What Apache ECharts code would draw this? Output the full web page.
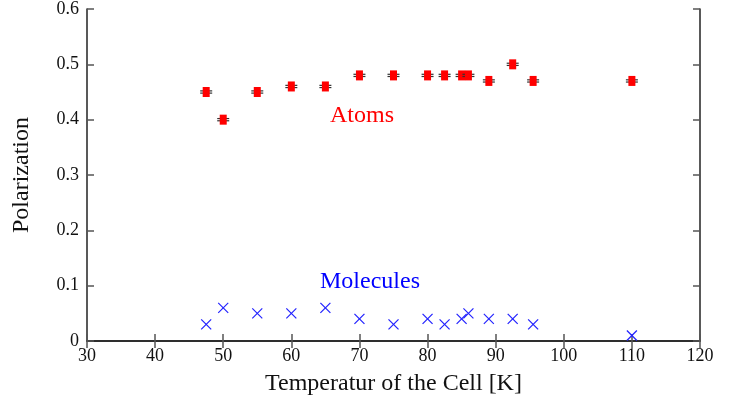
<!DOCTYPE html>
<html>
<head>
<meta charset="utf-8">
<script src="https://cdn.jsdelivr.net/npm/echarts@6/dist/echarts.min.js"></script>
<style>
  html, body { margin: 0; padding: 0; background: #fff; }
  #chart { width: 739px; height: 403px; }
</style>
</head>
<body>
<div id="chart"></div>
<script>
const temps = [47.5, 50, 55, 60, 65, 70, 75, 80, 82.5, 85, 86, 89, 92.5, 95.5, 110];
const atoms = [0.45, 0.40, 0.45, 0.46, 0.46, 0.48, 0.48, 0.48, 0.48, 0.48, 0.48, 0.47, 0.50, 0.47, 0.47];
const atomErr = [0.002, 0.002, 0.002, 0.002, 0.002, 0.002, 0.002, 0.002, 0.002, 0.002, 0.002, 0.002, 0.002, 0.002, 0.002];
const molecules = [0.03, 0.06, 0.05, 0.05, 0.06, 0.04, 0.03, 0.04, 0.03, 0.04, 0.05, 0.04, 0.04, 0.03, 0.01];

const font = "'Liberation Serif', 'DejaVu Serif', serif";
const myChart = echarts.init(document.getElementById("chart"));

const atomData = temps.map((t, i) => [t, atoms[i], atomErr[i]]);
const molData = temps.map((t, i) => [t, molecules[i]]);

const axisLine = { show: true, lineStyle: { color: "#222", width: 1.5 } };
const axisTick = { show: true, inside: true, length: 7, lineStyle: { color: "#555", width: 1.5 } };

myChart.setOption({
  animation: false,
  grid: { left: 87, right: 39, top: 6, bottom: 62, containLabel: false },
  xAxis: [
    {
      type: "value", min: 30, max: 120, interval: 10,
      axisLine, axisTick, splitLine: { show: false },
      axisLabel: { color: "#111", fontFamily: font, fontSize: 18, margin: 6 },
      name: "Temperatur of the Cell [K]", nameLocation: "middle", nameGap: 31,
      nameTextStyle: { color: "#111", fontFamily: font, fontSize: 24 }
    },
    {
      type: "value", position: "top", min: 30, max: 120, interval: 10,
      axisLine, axisTick, axisLabel: { show: false }, splitLine: { show: false }
    }
  ],
  yAxis: [
    {
      type: "value", min: 0, max: 0.6, interval: 0.1,
      axisLine, axisTick, splitLine: { show: false },
      axisLabel: { color: "#111", fontFamily: font, fontSize: 18, margin: 8 },
      name: "Polarization", nameLocation: "middle", nameGap: 53,
      nameTextStyle: { color: "#111", fontFamily: font, fontSize: 24 }
    },
    {
      type: "value", position: "right", min: 0, max: 0.6, interval: 0.1,
      axisLine, axisTick, axisLabel: { show: false }, splitLine: { show: false }
    }
  ],
  series: [
    {
      type: "custom",
      name: "Atoms",
      data: atomData,
      renderItem: (params, api) => {
        const c = api.coord([api.value(0), api.value(1)]);
        const hi = api.coord([api.value(0), api.value(1) + api.value(2)]);
        const lo = api.coord([api.value(0), api.value(1) - api.value(2)]);
        return {
          type: "group",
          children: [
            { type: "line", shape: { x1: c[0], y1: hi[1], x2: c[0], y2: lo[1] }, style: { stroke: "#333", lineWidth: 1.2 } },
            { type: "line", shape: { x1: c[0] - 6, y1: hi[1], x2: c[0] + 6, y2: hi[1] }, style: { stroke: "#333", lineWidth: 1.2 } },
            { type: "line", shape: { x1: c[0] - 6, y1: lo[1], x2: c[0] + 6, y2: lo[1] }, style: { stroke: "#333", lineWidth: 1.2 } },
            { type: "rect", shape: { x: c[0] - 3.5, y: c[1] - 5, width: 7, height: 10 }, style: { fill: "#ff0000" } }
          ]
        };
      }
    },
    {
      type: "custom",
      name: "Molecules",
      data: molData,
      renderItem: (params, api) => {
        const c = api.coord([api.value(0), api.value(1)]);
        const s = 5;
        const st = { stroke: "#2222ff", lineWidth: 1.2 };
        return {
          type: "group",
          children: [
            { type: "line", shape: { x1: c[0] - s, y1: c[1] - s, x2: c[0] + s, y2: c[1] + s }, style: st },
            { type: "line", shape: { x1: c[0] - s, y1: c[1] + s, x2: c[0] + s, y2: c[1] - s }, style: st }
          ]
        };
      }
    }
  ],
  graphic: [
    { type: "text", left: 330, top: 104, style: { text: "Atoms", fill: "#ff0000", font: "24px " + font } },
    { type: "text", left: 320, top: 270, style: { text: "Molecules", fill: "#0000ff", font: "24px " + font } }
  ]
});
</script>
</body>
</html>
